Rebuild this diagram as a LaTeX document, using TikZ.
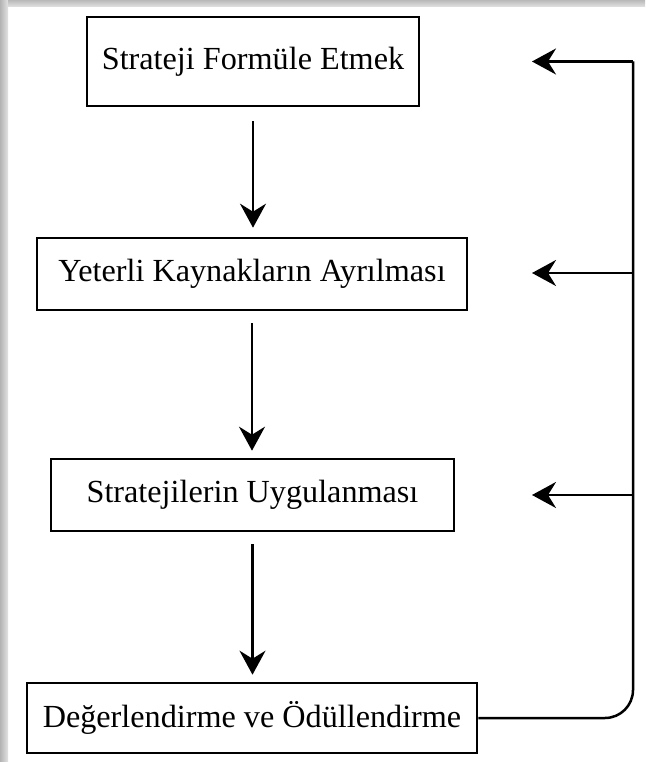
\documentclass[tikz,border=0pt]{standalone}
\usepackage{fontspec}
\setmainfont{Liberation Serif}
\usetikzlibrary{arrows.meta}

\begin{document}
\begin{tikzpicture}[x=1pt, y=-1pt,
  stagebox/.style={draw=black, line width=2.6pt, fill=white, inner sep=0pt,
    font=\fontsize{32.2}{38}\selectfont},
  flow/.style={line width=2.5pt, -{Stealth[length=24pt, width=26pt, inset=8pt]}},
  loopline/.style={line width=2.5pt}]

  % canvas and soft frame along the top and left edges
  \useasboundingbox (0,0) rectangle (645,762);
  \fill[white] (0,0) rectangle (645,762);
  \shade[left color=gray!60, right color=gray!22] (0,0) rectangle (8,762);
  \shade[top color=gray!55, bottom color=gray!22] (8,0) rectangle (645,7);

  % stages
  \node[stagebox, minimum width=332pt, minimum height=89pt] (b1) at (253,61.5) {Strateji Formüle Etmek};
  \node[stagebox, minimum width=430pt, minimum height=72pt] (b2) at (252,274) {Yeterli Kaynakların Ayrılması};
  \node[stagebox, minimum width=403pt, minimum height=72pt] (b3) at (252.5,495) {Stratejilerin Uygulanması};
  \node[stagebox, minimum width=450pt, minimum height=70pt] (b4) at (252,718) {Değerlendirme ve Ödüllendirme};

  % downward flow
  \draw[flow, shorten <=14pt, shorten >=9pt] (b1.south) -- (b1.south |- b2.north);
  \draw[flow, shorten <=12pt, shorten >=7pt] (b2.south) -- (b2.south |- b3.north);
  \draw[flow, shorten <=12pt, shorten >=7pt] (b3.south) -- (b3.south |- b4.north);

  % feedback loop on the right
  \coordinate (rail1) at (633,61.5);
  \coordinate (rail2) at (633,273);
  \coordinate (rail3) at (633,495);
  \coordinate (end1) at (532,61.5);
  \coordinate (end2) at (532,273);
  \coordinate (end3) at (532,495);

  \draw[loopline, rounded corners=28pt] (b4.east) -- (b4.east -| rail1) -- (rail1);
  \draw[flow] (rail1) -- (end1);
  \draw[flow] (rail2) -- (end2);
  \draw[flow] (rail3) -- (end3);
\end{tikzpicture}
\end{document}
